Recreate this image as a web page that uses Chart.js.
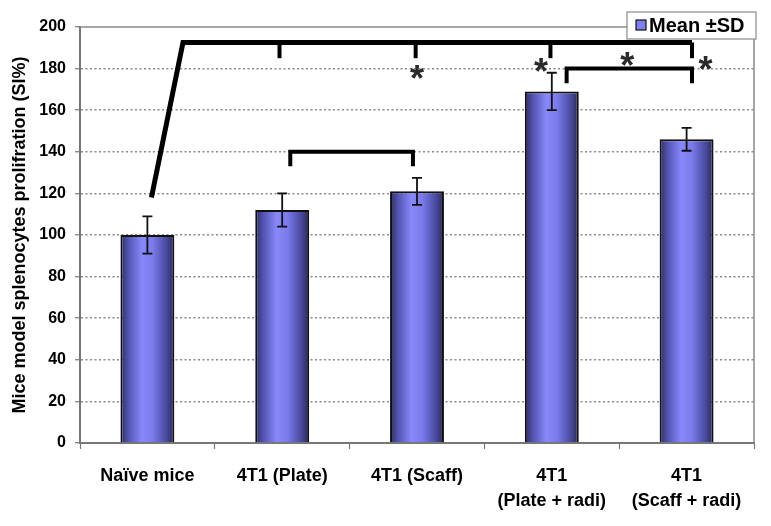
<!DOCTYPE html>
<html>
<head>
<meta charset="utf-8">
<script src="https://cdn.jsdelivr.net/npm/chart.js@4"></script>
<style>
  html, body { margin: 0; padding: 0; background: #fff; }
  #wrap { width: 771px; height: 526px; }
</style>
</head>
<body>
<div id="wrap"><canvas id="chart" width="771" height="526"></canvas></div>
<script>
// data
const categories = [['Naïve mice'], ['4T1 (Plate)'], ['4T1 (Scaff)'], ['4T1', '(Plate + radi)'], ['4T1', '(Scaff + radi)']];
const means = [100, 112, 121, 169, 146];
const sds = [9, 8, 6.5, 9, 5.5];
const yTicks = [0, 20, 40, 60, 80, 100, 120, 140, 160, 180, 200];

// significance brackets as [category index, value] paths
const bracketTop = [[0.03, 118], [0.264, 192.6], [4.04, 192.6]];
const bracketTopDrops = [0.98, 1.99, 2.99, 4.04];
const bracketTopDropTo = 185;
const bracketMid = [[1.06, 133], [1.06, 140], [1.97, 140], [1.97, 133]];
const bracketRight = [[3.11, 173], [3.11, 180], [4.04, 180], [4.04, 173]];
const stars = [[2, 178], [2.92, 181], [3.56, 184], [4.14, 182]];

const FONT = "'Liberation Sans', Arial, sans-serif";

function barGradient(ctx) {
    const chart = ctx.chart;
    const area = chart.chartArea;
    if (!area) return '#7070e0';
    const x = chart.scales.x.getPixelForValue(ctx.dataIndex);
    const w = (area.right - area.left) / categories.length * 0.4;
    const g = chart.ctx.createLinearGradient(x - w / 2, 0, x + w / 2, 0);
    g.addColorStop(0, '#2c2c62');
    g.addColorStop(0.15, '#5454b2');
    g.addColorStop(0.4, '#8888fb');
    g.addColorStop(0.6, '#7a7aea');
    g.addColorStop(0.85, '#4a4aa0');
    g.addColorStop(1, '#282852');
    return g;
}

const extras = {
    id: 'extras',
    afterDatasetsDraw(chart) {
        const c = chart.ctx;
        const xs = chart.scales.x, ys = chart.scales.y;
        const area = chart.chartArea;
        const px = v => xs.getPixelForValue(v);
        const py = v => ys.getPixelForValue(v);

        // frame top / right
        c.save();
        c.strokeStyle = '#8a8a8a';
        c.lineWidth = 1.5;
        c.beginPath();
        c.moveTo(area.left, area.top);
        c.lineTo(area.right, area.top);
        c.lineTo(area.right, area.bottom);
        c.stroke();

        // error bars
        c.strokeStyle = '#111';
        c.lineWidth = 1.8;
        chart.getDatasetMeta(0).data.forEach((bar, i) => {
            const hi = py(means[i] + sds[i]), lo = py(means[i] - sds[i]);
            c.beginPath();
            c.moveTo(bar.x, hi); c.lineTo(bar.x, lo);
            c.moveTo(bar.x - 5, hi); c.lineTo(bar.x + 5, hi);
            c.moveTo(bar.x - 5, lo); c.lineTo(bar.x + 5, lo);
            c.stroke();
        });

        // brackets
        c.strokeStyle = '#000';
        c.lineCap = 'butt';
        c.lineJoin = 'miter';
        const path = (pts, lw) => {
            c.lineWidth = lw;
            c.beginPath();
            pts.forEach((p, k) => k ? c.lineTo(px(p[0]), py(p[1])) : c.moveTo(px(p[0]), py(p[1])));
            c.stroke();
        };
        path(bracketTop, 5);
        bracketTopDrops.forEach(d => path([[d, bracketTop[1][1]], [d, bracketTopDropTo]], 4));
        path(bracketMid, 4);
        path(bracketRight, 4);

        // asterisks
        c.fillStyle = '#2a2a2a';
        c.font = 'bold 36px ' + FONT;
        c.textAlign = 'center';
        c.textBaseline = 'middle';
        stars.forEach(s => c.fillText('*', px(s[0]), py(s[1]) + 8));

        // legend box
        const lx = 627, ly = 12;
        c.fillStyle = '#fff';
        c.fillRect(lx, ly, 129, 27);
        c.strokeStyle = '#8a8a8a';
        c.lineWidth = 1.2;
        c.strokeRect(lx, ly, 129, 27);
        c.fillStyle = '#7f7ff0';
        c.fillRect(lx + 9, ly + 8, 10, 10);
        c.strokeStyle = '#111';
        c.lineWidth = 1.2;
        c.strokeRect(lx + 9, ly + 8, 10, 10);
        c.fillStyle = '#000';
        c.font = 'bold 20px ' + FONT;
        c.textAlign = 'left';
        c.fillText(chart.data.datasets[0].label, lx + 22, ly + 14);
        c.restore();
    }
};

new Chart(document.getElementById('chart'), {
    type: 'bar',
    data: {
        labels: categories,
        datasets: [{
            label: 'Mean ±SD',
            data: means,
            backgroundColor: barGradient,
            borderColor: '#111',
            borderWidth: 2,
            categoryPercentage: 0.8,
            barPercentage: 0.5
        }]
    },
    options: {
        responsive: false,
        animation: false,
        layout: { padding: { top: 27, right: 17, left: 0, bottom: 0 } },
        plugins: { legend: { display: false }, tooltip: { enabled: false } },
        scales: {
            x: {
                grid: { offset: true, drawOnChartArea: false, drawTicks: true, tickLength: 6, tickColor: '#777', tickWidth: 1.2 },
                border: { color: '#777', width: 2 },
                ticks: { color: '#000', padding: 14, maxRotation: 0, autoSkip: false, font: { family: FONT, size: 18, weight: 'bold', lineHeight: 1.4 } },
                afterFit: s => { s.height = 83; }
            },
            y: {
                min: 0,
                max: 200,
                afterBuildTicks: s => { s.ticks = yTicks.map(v => ({ value: v })); },
                grid: {
                    color: ctx => (ctx.tick && (ctx.tick.value === 0 || ctx.tick.value === 200)) ? 'rgba(0,0,0,0)' : '#8a8a8a',
                    lineWidth: 1.5,
                    tickColor: '#777',
                    tickLength: 5,
                    tickWidth: 1.2
                },
                border: { color: '#777', width: 2, dash: [2, 2.5] },
                ticks: { color: '#000', padding: 9, font: { family: FONT, size: 16, weight: 'bold' } },
                title: {
                    display: true,
                    text: 'Mice model splenocytes prolifration (SI%)',
                    color: '#000',
                    padding: { top: 9, bottom: 0 },
                    font: { family: FONT, size: 18, weight: 'bold' }
                },
                afterFit: s => { s.width = 80; }
            }
        }
    },
    plugins: [extras]
});
</script>
</body>
</html>
